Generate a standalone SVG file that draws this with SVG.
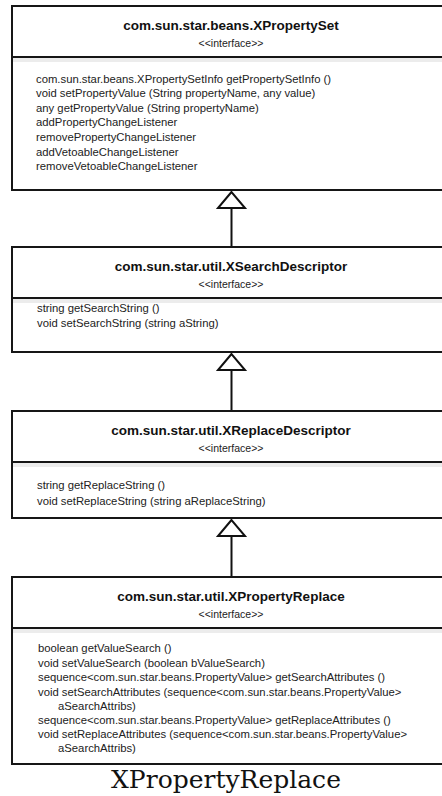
<svg xmlns="http://www.w3.org/2000/svg" width="442" height="796" viewBox="0 0 442 796">
<style>
.box{fill:#fff;stroke:#161616;stroke-width:2}
.div{stroke:#161616;stroke-width:2}
.band{fill:#ececec}
.title{font-family:"Liberation Sans",Arial,sans-serif;font-weight:bold;font-size:13.5px;fill:#111;text-anchor:middle}
.ster{font-family:"Liberation Sans",Arial,sans-serif;font-size:10.5px;fill:#222;text-anchor:middle}
.m{font-family:"Liberation Sans",Arial,sans-serif;font-size:11.3px;fill:#222}
.edge{stroke:#111;stroke-width:2;fill:none}
.head{fill:#fff;stroke:#111;stroke-width:2;stroke-linejoin:miter}
.cap{font-family:"DejaVu Serif",serif;font-size:25px;fill:#111;text-anchor:middle}
</style>
<g id="connectors">
<line class="edge" x1="231.5" y1="208" x2="231.5" y2="247"/>
<polygon class="head" points="231.5,192 218,208 245,208"/>
<line class="edge" x1="231.5" y1="370" x2="231.5" y2="411"/>
<polygon class="head" points="231.5,354 218,370 245,370"/>
<line class="edge" x1="231.5" y1="536" x2="231.5" y2="577"/>
<polygon class="head" points="231.5,520 218,536 245,536"/>
</g>
<g id="XPropertySet">
<rect class="box" x="12" y="6" width="440" height="184"/>
<rect class="band" x="13" y="58" width="438" height="4"/>
<line class="div" x1="12" y1="57" x2="452" y2="57"/>
<text class="title" x="231" y="30">com.sun.star.beans.XPropertySet</text>
<text class="ster" x="231" y="47">&lt;&lt;interface&gt;&gt;</text>
<text class="m" x="36" y="82.5">com.sun.star.beans.XPropertySetInfo getPropertySetInfo ()</text>
<text class="m" x="36" y="97.1">void setPropertyValue (String propertyName, any value)</text>
<text class="m" x="36" y="111.7">any getPropertyValue (String propertyName)</text>
<text class="m" x="36" y="126.3">addPropertyChangeListener</text>
<text class="m" x="36" y="140.9">removePropertyChangeListener</text>
<text class="m" x="36" y="155.5">addVetoableChangeListener</text>
<text class="m" x="36" y="170.1">removeVetoableChangeListener</text>
</g>
<g id="XSearchDescriptor">
<rect class="box" x="12" y="247" width="440" height="105"/>
<rect class="band" x="13" y="299" width="438" height="4"/>
<line class="div" x1="12" y1="298" x2="452" y2="298"/>
<text class="title" x="231" y="271">com.sun.star.util.XSearchDescriptor</text>
<text class="ster" x="231" y="288">&lt;&lt;interface&gt;&gt;</text>
<text class="m" x="37" y="312">string getSearchString ()</text>
<text class="m" x="37" y="327">void setSearchString (string aString)</text>
</g>
<g id="XReplaceDescriptor">
<rect class="box" x="12" y="411" width="440" height="107"/>
<rect class="band" x="13" y="463" width="438" height="4"/>
<line class="div" x1="12" y1="462" x2="452" y2="462"/>
<text class="title" x="231" y="435">com.sun.star.util.XReplaceDescriptor</text>
<text class="ster" x="231" y="452">&lt;&lt;interface&gt;&gt;</text>
<text class="m" x="37" y="489">string getReplaceString ()</text>
<text class="m" x="37" y="505">void setReplaceString (string aReplaceString)</text>
</g>
<g id="XPropertyReplace">
<rect class="box" x="12" y="577" width="440" height="187"/>
<rect class="band" x="13" y="629" width="438" height="4"/>
<line class="div" x1="12" y1="628" x2="452" y2="628"/>
<text class="title" x="231" y="601">com.sun.star.util.XPropertyReplace</text>
<text class="ster" x="231" y="618">&lt;&lt;interface&gt;&gt;</text>
<text class="m" x="38" y="652">boolean getValueSearch ()</text>
<text class="m" x="38" y="667">void setValueSearch (boolean bValueSearch)</text>
<text class="m" x="38" y="681">sequence&lt;com.sun.star.beans.PropertyValue&gt; getSearchAttributes ()</text>
<text class="m" x="38" y="696">void setSearchAttributes (sequence&lt;com.sun.star.beans.PropertyValue&gt;</text>
<text class="m" x="58" y="710">aSearchAttribs)</text>
<text class="m" x="38" y="724">sequence&lt;com.sun.star.beans.PropertyValue&gt; getReplaceAttributes ()</text>
<text class="m" x="38" y="738">void setReplaceAttributes (sequence&lt;com.sun.star.beans.PropertyValue&gt;</text>
<text class="m" x="58" y="752">aSearchAttribs)</text>
</g>
<text class="cap" x="226" y="788">XPropertyReplace</text>
</svg>
